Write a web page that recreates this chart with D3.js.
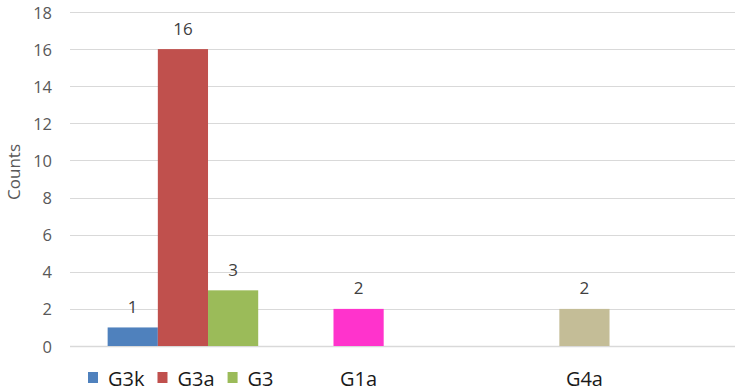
<!DOCTYPE html>
<html>
<script src="https://d3js.org/d3.v7.min.js"></script>

<head>
    <style>
        body {
            margin: 0;
            background-color: #ffffff;
            font-family: "Open Sans", Arial, sans-serif;
        }
    </style>
</head>

<body>
</body>
<script>
    const width = 744,
        height = 392;

    // chart values
    const names = ["G3k", "G3a", "G3", "G1a", "G4a"];
    const counts = [1, 16, 3, 2, 2];
    const colors = ["#4f81bd", "#c0504d", "#9bbb59", "#ff33cc", "#c4bd97"];
    // order of each bar along the category axis (in half-bar steps, gaps included)
    const slots = [0, 2, 4, 9, 18];
    const yTicks = [0, 2, 4, 6, 8, 10, 12, 14, 16, 18];
    // first three go into the legend with a swatch, the others sit under their bar
    const legendNames = ["G3k", "G3a", "G3"];
    const axisNames = ["G1a", "G4a"];

    const svg = d3.select("body").append("svg").attr("width", width).attr("height", height);

    const y = d3.scaleLinear().domain([0, 18]).range([346, 12]);
    const x = d3.scaleLinear().domain([-1.5, 25]).range([70, 735]);
    const barW = x(2) - x(0);

    // gridlines
    svg.selectAll(".grid")
        .data(yTicks)
        .join("line")
        .attr("x1", 70)
        .attr("x2", 735)
        .attr("y1", d => Math.round(y(d)) + 0.5)
        .attr("y2", d => Math.round(y(d)) + 0.5)
        .attr("stroke", "#d9d9d9")
        .attr("stroke-width", d => d === 0 ? 1.5 : 1);

    svg.selectAll(".ytick")
        .data(yTicks)
        .join("text")
        .attr("x", 52)
        .attr("y", d => y(d))
        .attr("text-anchor", "end")
        .attr("dominant-baseline", "central")
        .attr("font-size", 16.5)
        .attr("fill", "#595959")
        .text(d => d);

    svg.append("text")
        .attr("transform", "translate(13,172) rotate(-90)")
        .attr("text-anchor", "middle")
        .attr("dominant-baseline", "central")
        .attr("font-size", 17)
        .attr("fill", "#595959")
        .text("Counts");

    const bars = names.map((n, i) => ({ name: n, count: counts[i], color: colors[i], slot: slots[i] }));

    svg.selectAll(".bar")
        .data(bars)
        .join("rect")
        .attr("x", d => x(d.slot))
        .attr("y", d => y(d.count))
        .attr("width", barW)
        .attr("height", d => y(0) - y(d.count))
        .attr("fill", d => d.color);

    svg.selectAll(".val")
        .data(bars)
        .join("text")
        .attr("x", d => x(d.slot) + barW / 2)
        .attr("y", d => y(d.count) - 21)
        .attr("text-anchor", "middle")
        .attr("dominant-baseline", "central")
        .attr("font-size", 17)
        .attr("fill", "#404040")
        .text(d => d.count);

    // legend row
    const legY = 378;
    let lx = 88;
    legendNames.forEach(n => {
        const b = bars.find(d => d.name === n);
        svg.append("rect")
            .attr("x", lx)
            .attr("y", legY - 6)
            .attr("width", 10)
            .attr("height", 11)
            .attr("fill", b.color);
        const t = svg.append("text")
            .attr("x", lx + 20)
            .attr("y", legY)
            .attr("dominant-baseline", "central")
            .attr("font-size", 20)
            .attr("fill", "#1a1a1a")
            .text(n);
        lx += 20 + t.node().getComputedTextLength() + 13;
    });

    axisNames.forEach(n => {
        const b = bars.find(d => d.name === n);
        svg.append("text")
            .attr("x", x(b.slot) + barW / 2)
            .attr("y", legY)
            .attr("text-anchor", "middle")
            .attr("dominant-baseline", "central")
            .attr("font-size", 20)
            .attr("fill", "#1a1a1a")
            .text(n);
    });
</script>

</html>
